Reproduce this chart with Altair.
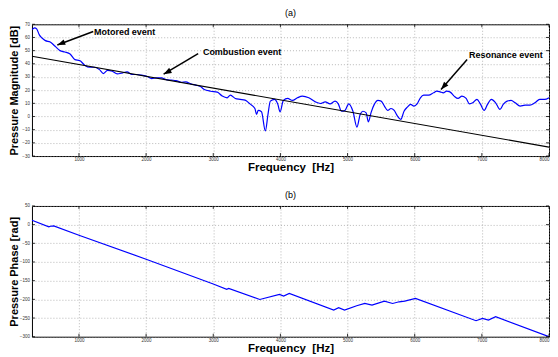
import altair as alt
import pandas as pd

# ---------------- data ----------------
mag_freq = [300, 340, 370, 410, 450, 500, 572, 645, 718, 790, 868, 940, 1010, 1085, 1158, 1230,
            1305, 1365, 1425, 1497, 1570, 1643, 1716, 1790, 1862, 1935, 2010, 2083, 2155, 2228,
            2300, 2375, 2447, 2520, 2592, 2665, 2740, 2810, 2866, 2963, 3060, 3134, 3207, 3255,
            3328, 3400, 3474, 3547, 3620, 3645, 3670, 3718, 3776, 3815, 3850, 3912, 3962, 3995,
            4044, 4108, 4180, 4253, 4327, 4423, 4520, 4595, 4667, 4740, 4814, 4862, 4910, 4960,
            5018, 5080, 5140, 5188, 5228, 5277, 5310, 5350, 5398, 5452, 5500, 5549, 5597, 5647,
            5695, 5744, 5793, 5841, 5890, 5939, 5988, 6036, 6085, 6134, 6207, 6280, 6328, 6378,
            6426, 6475, 6524, 6587, 6645, 6704, 6766, 6816, 6864, 6927, 6977, 7035, 7084, 7142,
            7205, 7270, 7318, 7376, 7435, 7497, 7570, 7644, 7716, 7790, 7862, 7935, 8000]
mag_db = [66, 67.3, 66.5, 62, 59.6, 57.6, 56.6, 53.3, 50, 49, 47.5, 43.2, 42.5, 39, 37.4, 37.4,
          35.6, 32.6, 35, 34.4, 32.4, 33, 33.9, 31.9, 31.9, 31.4, 30.6, 28.8, 29.3, 29.3,
          28, 27.6, 27.3, 26, 26.3, 24.8, 23.8, 22.8, 20.5, 19.2, 18.5, 15.5, 14.2, 16.2,
          13.7, 13, 12.4, 9.6, 6.1, 1.6, 4.6, 3.6, -11, 1.6, 11.7, 13, 9.2, 3.6,
          12.2, 13.7, 12.2, 14.2, 15.5, 14.2, 11.1, 9.9, 11.1, 9.6, 11.7, 9.6, 4, 4.6,
          9.6, 4, -8, 1.6, 4, 2.8, -4, 3, 9.2, 12.2, 11.7, 7.9, 4.6, 6.1,
          4.6, 0.3, -2.2, 4, 7.1, 9.2, 7.9, 9.6, 14.2, 16.2, 16.2, 18, 19.2, 18.7,
          18, 19.2, 18.7, 15.5, 13.7, 15.5, 13.7, 9.6, 10.4, 13, 9.6, 4.6, 9.2, 13,
          10.4, 5.4, 9.2, 11.7, 12.2, 10.4, 7.9, 8.6, 8.6, 10.4, 13, 13, 14.2]

fit_freq = [300, 8000]
fit_db = [45.8, -23.2]

phase_freq = [300, 551, 576, 624, 1000, 2000, 3000, 3200, 3230, 3693, 3986, 4048, 4132, 4794,
              4867, 4955, 5136, 5257, 5364, 5549, 5671, 5768, 5852, 6012, 6913, 7010, 7098,
              7205, 8000]
phase_rad = [11.8, -6, -4.3, -3.4, -28.4, -92.5, -159, -173, -170.5, -200.3, -187, -191.3, -184,
             -228.7, -222.5, -228.7, -217, -211, -215.3, -204.6, -211, -206.5, -204.6, -197.7,
             -257.2, -251, -255.4, -246.6, -300]

x_ticks = [1000, 2000, 3000, 4000, 5000, 6000, 7000, 8000]
mag_ticks = [-30, -20, -10, 0, 10, 20, 30, 40, 50, 60, 70]
phase_ticks = [-300, -250, -200, -150, -100, -50, 0, 50]

ann_label = ["Motored event", "Combustion event", "Resonance event"]
ann_text_f = [1224, 2846, 6808]
ann_text_v = [64.5, 48.8, 47.0]
ann_tail_f = [1213, 2775, 6781]
ann_tail_v = [64.5, 47.8, 43.3]
ann_head_f = [678, 2261, 6392]
ann_head_v = [54.3, 32.1, 20.5]
ann_angle = [248.7, 241.0, 220.9]

# ---------------- style ----------------
FONT = "Liberation Sans"
W = 518
H1 = 132
H2 = 131
TICK = 3

xscale = alt.Scale(domain=[300, 8000], nice=False, zero=False)
yscale1 = alt.Scale(domain=[-30, 70], nice=False, zero=False)
yscale2 = alt.Scale(domain=[-300, 50], nice=False, zero=False)


def xaxis():
    return alt.Axis(values=x_ticks, title="Frequency\u00a0 [Hz]", grid=True, ticks=False,
                    tickSize=0, domain=False, labelFontSize=4.5, labelPadding=0.5,
                    titlePadding=0.5, titleFontSize=11.5, titleFontWeight="bold",
                    labelFlush=True, labelOverlap=False, format="d")


def yaxis(title, vals):
    return alt.Axis(values=vals, title=title, grid=True, ticks=False, tickSize=0,
                    domain=False, labelFontSize=4.5, labelPadding=2.5, titlePadding=0,
                    titleFontSize=11, titleFontWeight="bold", minExtent=12, maxExtent=12,
                    labelOverlap=False, format="d")


def tick_layers(yscale, yvals, yax, H):
    xt = pd.DataFrame({"t": x_ticks})
    yt = pd.DataFrame({"t": yvals})
    xenc = alt.X("t:Q", scale=xscale, axis=xaxis())
    yenc = alt.Y("t:Q", scale=yscale, axis=yax)
    top_t = alt.Chart(xt).mark_rule(color="black", strokeWidth=0.8).encode(
        x=xenc, y=alt.value(0), y2=alt.value(TICK))
    bot_t = alt.Chart(xt).mark_rule(color="black", strokeWidth=0.8).encode(
        x=xenc, y=alt.value(H), y2=alt.value(H - TICK))
    left_t = alt.Chart(yt).mark_rule(color="black", strokeWidth=0.8).encode(
        y=yenc, x=alt.value(0), x2=alt.value(TICK))
    right_t = alt.Chart(yt).mark_rule(color="black", strokeWidth=0.8).encode(
        y=yenc, x=alt.value(W), x2=alt.value(W - TICK))
    return [top_t, bot_t, left_t, right_t]


# ---------------- top panel ----------------
y1ax = yaxis("Pressure Magnitude [dB]", mag_ticks)
mag_df = pd.DataFrame({"f": mag_freq, "v": mag_db})
fit_df = pd.DataFrame({"f": fit_freq, "v": fit_db})
ann_df = pd.DataFrame({"label": ann_label, "tf": ann_text_f, "tv": ann_text_v,
                       "af": ann_tail_f, "av": ann_tail_v, "hf": ann_head_f,
                       "hv": ann_head_v, "ang": ann_angle})

blue = alt.Chart(mag_df).mark_line(color="#0000ff", strokeWidth=1.2, interpolate="monotone",
                                   clip=True).encode(
    x=alt.X("f:Q", scale=xscale, axis=xaxis()),
    y=alt.Y("v:Q", scale=yscale1, axis=y1ax))
fit = alt.Chart(fit_df).mark_line(color="black", strokeWidth=1.1, clip=True).encode(
    x=alt.X("f:Q", scale=xscale, axis=xaxis()),
    y=alt.Y("v:Q", scale=yscale1, axis=y1ax))
shafts = alt.Chart(ann_df).mark_rule(color="black", strokeWidth=1.5).encode(
    x=alt.X("af:Q", scale=xscale, axis=xaxis()),
    y=alt.Y("av:Q", scale=yscale1, axis=y1ax),
    x2="hf:Q", y2="hv:Q")
heads = alt.Chart(ann_df).mark_point(shape="M0,0L-0.8,2.2L0.8,2.2Z", filled=True,
                                     color="black", opacity=1, size=52, strokeWidth=0).encode(
    x=alt.X("hf:Q", scale=xscale, axis=xaxis()),
    y=alt.Y("hv:Q", scale=yscale1, axis=y1ax),
    angle=alt.Angle("ang:Q", scale=None))
labels = alt.Chart(ann_df).mark_text(align="left", baseline="middle", fontSize=9,
                                     fontWeight="bold", font=FONT, color="black").encode(
    x=alt.X("tf:Q", scale=xscale, axis=xaxis()),
    y=alt.Y("tv:Q", scale=yscale1, axis=y1ax),
    text="label:N")

top = alt.layer(blue, fit, shafts, heads, labels,
                *tick_layers(yscale1, mag_ticks, y1ax, H1)).properties(
    width=W, height=H1,
    title=alt.Title("(a)", fontSize=9, fontWeight="normal", font=FONT, offset=3))

# ---------------- bottom panel ----------------
y2ax = yaxis("Pressure Phase [rad]", phase_ticks)
phase_df = pd.DataFrame({"f": phase_freq, "v": phase_rad})
phase = alt.Chart(phase_df).mark_line(color="#0000ff", strokeWidth=1.2, clip=True).encode(
    x=alt.X("f:Q", scale=xscale, axis=xaxis()),
    y=alt.Y("v:Q", scale=yscale2, axis=y2ax))

bottom = alt.layer(phase, *tick_layers(yscale2, phase_ticks, y2ax, H2)).properties(
    width=W, height=H2,
    title=alt.Title("(b)", fontSize=9, fontWeight="normal", font=FONT, offset=3))

chart = alt.vconcat(top, bottom, spacing=16).properties(
    padding={"left": 0, "top": 0, "right": 0, "bottom": 0}
).configure_view(stroke="black", strokeWidth=1).configure_axis(
    gridColor="#999999", gridDash=[1, 2], gridWidth=0.7, gridOpacity=1,
    labelColor="#333333", labelFont=FONT, titleFont=FONT, titleColor="black"
).configure_title(font=FONT, color="black")

chart.save("out.html", embed_options={"renderer": "svg", "actions": False})
